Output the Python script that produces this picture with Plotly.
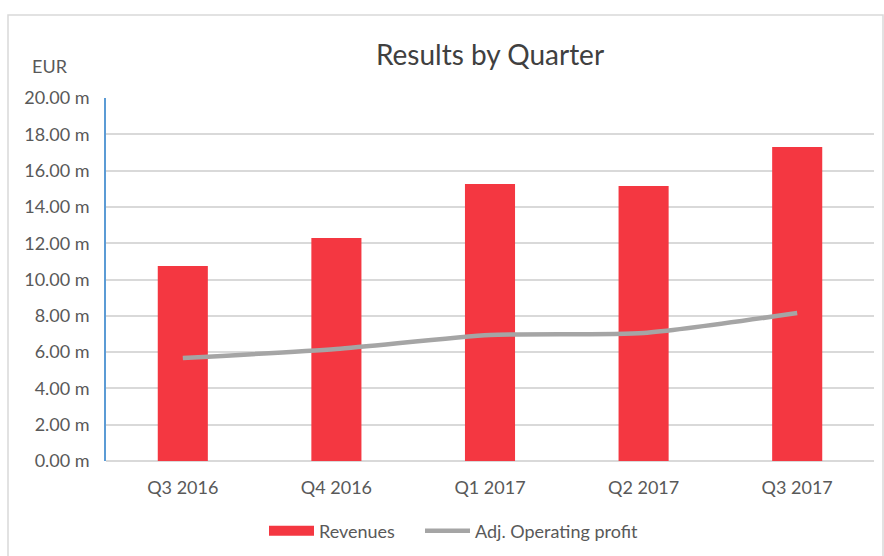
import plotly.graph_objects as go

quarters = ["Q3 2016", "Q4 2016", "Q1 2017", "Q2 2017", "Q3 2017"]
revenues = [10.74, 12.29, 15.26, 15.15, 17.30]
adj_operating_profit = [5.67, 6.17, 6.94, 7.05, 8.15]
y_ticks = [0, 2, 4, 6, 8, 10, 12, 14, 16, 18, 20]
y_tick_labels = ["%.2f m" % v for v in y_ticks]

FONT = "Lato, Open Sans, sans-serif"
TXT = "#595959"
RED = "#F43741"
GREY = "#A5A5A5"

fig = go.Figure()
fig.add_trace(go.Bar(x=quarters, y=revenues, name="Revenues", showlegend=False,
                     marker=dict(color=RED, line=dict(width=0))))
# legend entry for the bars, drawn as a wide swatch
fig.add_trace(go.Scatter(x=[quarters[0]], y=[None], name="Revenues", mode="lines",
                         line=dict(color=RED, width=12), hoverinfo="skip", legend="legend"))
fig.add_trace(go.Scatter(x=quarters, y=adj_operating_profit, name="Adj. Operating profit",
                         mode="lines", line=dict(color=GREY, width=4.5, shape="spline", smoothing=0.6),
                         legend="legend2"))

legend_common = dict(orientation="h", yref="container", yanchor="middle", y=1 - 531 / 556,
                     xanchor="left", font=dict(size=18, color=TXT), bgcolor="rgba(0,0,0,0)",
                     itemwidth=45)

fig.update_layout(
    width=884, height=556,
    margin=dict(l=106, r=10, t=98, b=95, autoexpand=False),
    paper_bgcolor="white", plot_bgcolor="white",
    font=dict(family=FONT, color=TXT, size=18),
    bargap=0.674,
    title=dict(text="Results by Quarter", x=0.5, xref="paper", xanchor="center", y=1 - 55 / 556,
               yanchor="middle", font=dict(size=28, color="#404040", family=FONT)),
    showlegend=True,
    legend=dict(x=(264 - 106) / 768, **legend_common),
    legend2=dict(x=(420 - 106) / 768, **legend_common),
    xaxis=dict(showgrid=False, showline=False, ticks="", tickfont=dict(size=18, color=TXT),
               ticklabelstandoff=14, zeroline=False, automargin=False),
    yaxis=dict(range=[0, 20], tickvals=y_ticks, ticktext=y_tick_labels, automargin=False,
               showgrid=True, gridcolor="#D9D9D9", gridwidth=1.5,
               showline=True, linecolor="#5B9BD5", linewidth=1.5,
               zeroline=True, zerolinecolor="#D9D9D9", zerolinewidth=1.5,
               ticks="", ticklabelstandoff=11, tickfont=dict(size=18, color=TXT)),
    annotations=[dict(text="EUR", xref="paper", yref="paper", x=(50 - 106) / 768,
                      y=(461 - 66) / 363, showarrow=False, xanchor="center", yanchor="middle",
                      font=dict(size=18, color=TXT, family=FONT))],
    shapes=[dict(type="rect", xref="paper", yref="paper",
                 x0=(8 - 106) / 768, x1=(883 - 106) / 768,
                 y0=(461 - 600) / 363, y1=(461 - 15) / 363,
                 line=dict(color="#D9D9D9", width=1.5), fillcolor="rgba(0,0,0,0)", layer="below")],
)

fig.write_html("out.html", config={"displayModeBar": False},
               post_script="document.body.style.margin='0';")
